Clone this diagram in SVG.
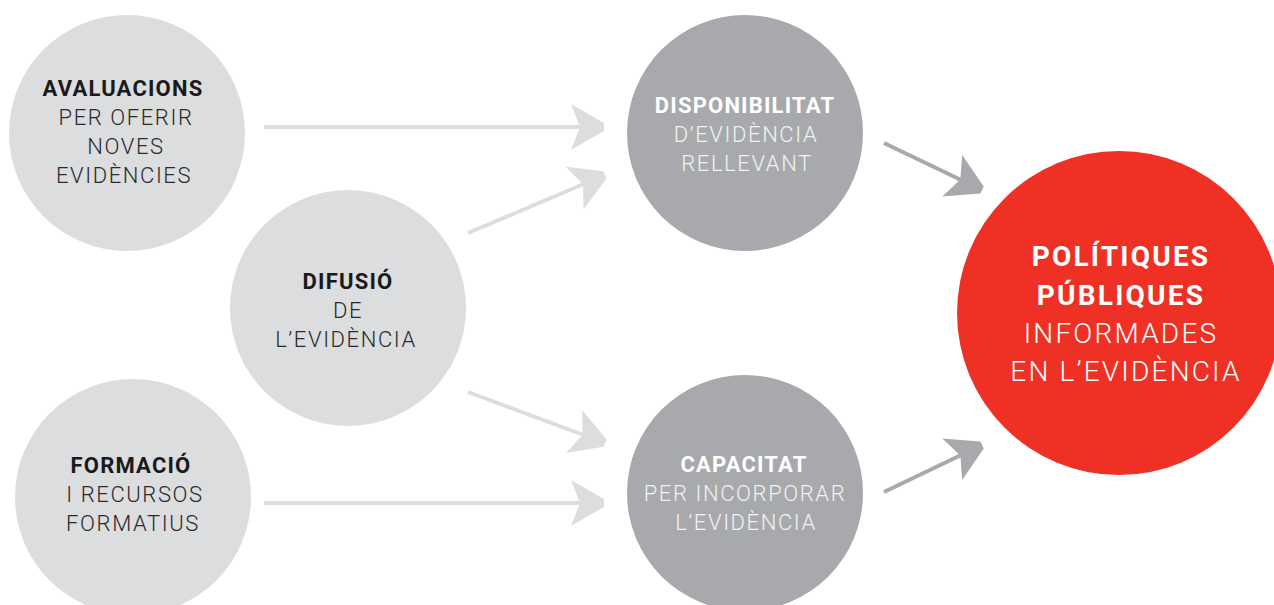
<svg xmlns="http://www.w3.org/2000/svg" width="1274" height="605" viewBox="0 0 1274 605">
<style>
.light{fill:#dcdddf}
.mid{fill:#a7a9ac}
.red{fill:#ee3124}
text{font-family:Roboto,"Liberation Sans",sans-serif;text-anchor:middle;font-size:22px;font-weight:300;letter-spacing:1.6px}
.b{font-weight:bold;letter-spacing:1.2px}
.dk{fill:#1a1a1a}
.dkr{fill:#2a2a2a}
.wb{fill:#ffffff}
.wr{fill:#f2f2f2}
.big{font-size:28px;letter-spacing:2.2px}
.cl{stroke:#dcdddf;stroke-width:4;fill:none}
.cd{stroke:#a7a9ac;stroke-width:4;fill:none}
</style>
<defs>
<marker id="ahl" markerUnits="userSpaceOnUse" markerWidth="40" markerHeight="50" viewBox="-36 -25 40 50" refX="0" refY="0" orient="auto">
<path d="M-33,-23 L0,-4 L0,4 L-33,23 L-24,0 Z" fill="#dcdddf"/>
</marker>
<marker id="ahd" markerUnits="userSpaceOnUse" markerWidth="40" markerHeight="50" viewBox="-36 -25 40 50" refX="0" refY="0" orient="auto">
<path d="M-33,-23 L0,-4 L0,4 L-33,23 L-24,0 Z" fill="#a7a9ac"/>
</marker>
</defs>
<g id="avaluacions">
<circle class="light" cx="127" cy="133" r="118"/>
<text x="123" y="96" class="b dk">AVALUACIONS</text>
<text x="126" y="125" class="dkr">PER OFERIR</text>
<text x="126" y="154" class="dkr">NOVES</text>
<text x="124" y="183" class="dkr">EVIDÈNCIES</text>
</g>
<g id="difusio">
<circle class="light" cx="348" cy="308" r="118"/>
<text x="348" y="289" class="b dk">DIFUSIÓ</text>
<text x="348" y="318" class="dkr">DE</text>
<text x="346" y="347" class="dkr">L’EVIDÈNCIA</text>
</g>
<g id="formacio">
<circle class="light" cx="133" cy="497" r="118"/>
<text x="131" y="473" class="b dk">FORMACIÓ</text>
<text x="135" y="502" class="dkr">I RECURSOS</text>
<text x="133" y="531" class="dkr">FORMATIUS</text>
</g>
<g id="disponibilitat">
<circle class="mid" cx="745" cy="133" r="118"/>
<text x="745" y="113" class="b wb">DISPONIBILITAT</text>
<text x="746" y="142" class="wr">D’EVIDÈNCIA</text>
<text x="747" y="171" class="wr">RELLEVANT</text>
</g>
<g id="capacitat">
<circle class="mid" cx="745" cy="493" r="118"/>
<text x="744" y="472" class="b wb">CAPACITAT</text>
<text x="745" y="501" class="wr">PER INCORPORAR</text>
<text x="746" y="530" class="wr">L’EVIDÈNCIA</text>
</g>
<g id="politiques">
<circle class="red" cx="1119" cy="313" r="162"/>
<text x="1121" y="266" class="b wb big">POLÍTIQUES</text>
<text x="1121" y="305" class="b wb big">PÚBLIQUES</text>
<text x="1121" y="343" class="wb big">INFORMADES</text>
<text x="1126" y="381" class="wb big">EN L’EVIDÈNCIA</text>
</g>
<g id="connectors">
<line class="cl" x1="264" y1="127" x2="604" y2="127" marker-end="url(#ahl)"/>
<line class="cl" x1="468" y1="233" x2="605" y2="175" marker-end="url(#ahl)"/>
<line class="cl" x1="468" y1="392" x2="605" y2="443" marker-end="url(#ahl)"/>
<line class="cl" x1="264" y1="503" x2="604" y2="503" marker-end="url(#ahl)"/>
<line class="cd" x1="884" y1="143" x2="982" y2="190" marker-end="url(#ahd)"/>
<line class="cd" x1="884" y1="492" x2="982" y2="445" marker-end="url(#ahd)"/>
</g>
</svg>
